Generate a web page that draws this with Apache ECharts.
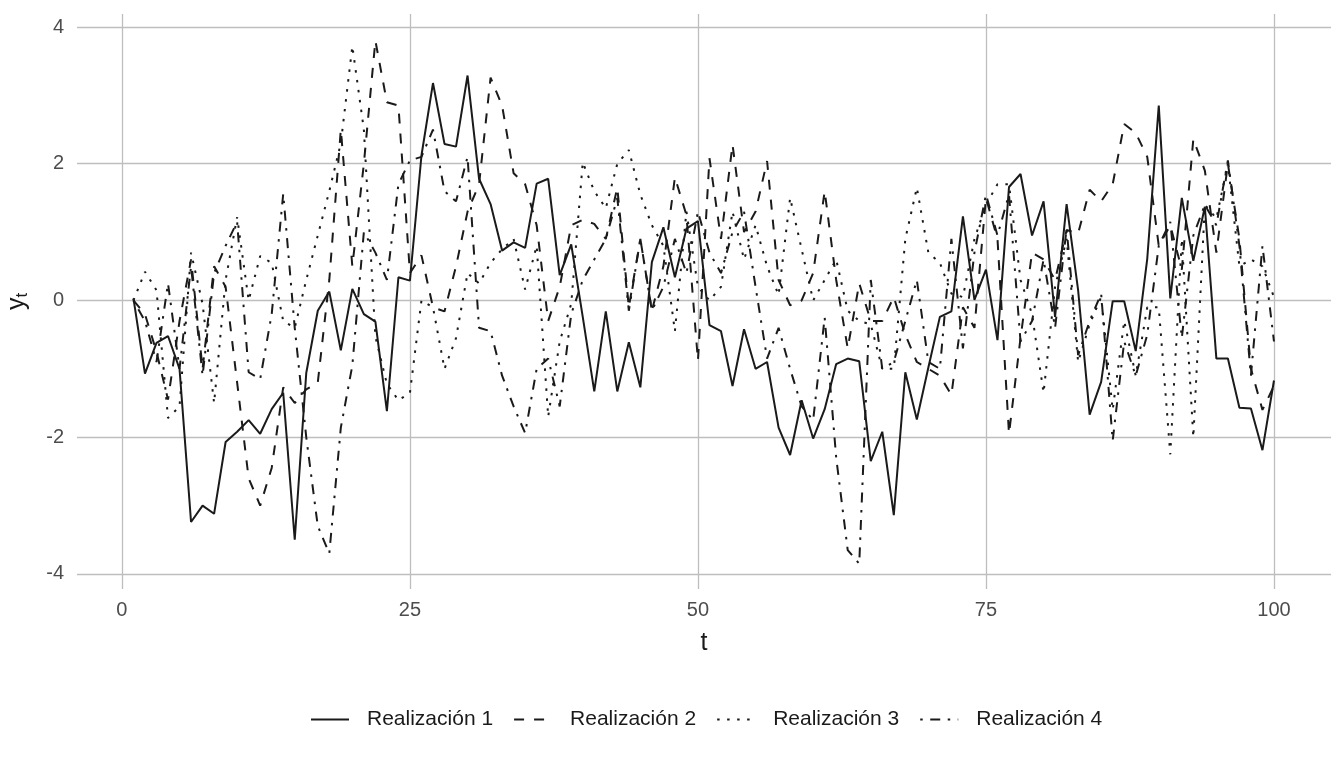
<!DOCTYPE html>
<html>
<head>
<meta charset="utf-8">
<script src="https://cdn.jsdelivr.net/npm/echarts@6/dist/echarts.min.js"></script>
<style>
html,body{margin:0;padding:0;background:#fff;}
#main{width:1344px;height:768px;}
</style>
</head>
<body>
<div id="main"></div>
<script>
// t = 1..100
var T = [];
for (var i = 1; i <= 100; i++) T.push(i);

var names = ['Realización 1', 'Realización 2', 'Realización 3', 'Realización 4'];

var r1 = [0.03,-1.07,-0.62,-0.52,-1.0,-3.24,-3.0,-3.12,-2.07,-1.92,
  -1.75,-1.95,-1.59,-1.35,-3.5,-1.06,-0.15,0.13,-0.73,0.17,
  -0.2,-0.31,-1.62,0.34,0.29,2.12,3.18,2.29,2.25,3.29,
  1.78,1.41,0.73,0.85,0.77,1.71,1.78,0.37,0.82,-0.24,
  -1.33,-0.16,-1.33,-0.61,-1.27,0.56,1.07,0.34,1.05,1.16,
  -0.36,-0.45,-1.25,-0.42,-1.0,-0.9,-1.86,-2.26,-1.46,-2.02,
  -1.59,-0.93,-0.85,-0.89,-2.35,-1.92,-3.14,-1.05,-1.74,-0.98,
  -0.24,-0.16,1.23,0.01,0.45,-0.58,1.66,1.85,0.95,1.45,
  -0.24,1.41,0.15,-1.67,-1.19,-0.01,-0.01,-0.74,0.61,2.85,
  0.03,1.5,0.58,1.37,-0.85,-0.85,-1.57,-1.58,-2.19,-1.17];

var r2 = [0.0,-0.2,-0.75,-1.45,-0.3,0.6,-1.0,0.5,0.2,-1.2,
  -2.6,-3.0,-2.45,-1.27,-1.5,-1.3,-1.2,0.3,2.5,0.5,
  2.0,3.8,2.9,2.85,0.4,0.66,-0.1,-0.16,0.5,1.3,
  1.7,3.26,2.85,1.86,1.7,1.1,-0.3,0.2,1.1,1.18,
  1.12,0.9,1.65,-0.1,0.9,-0.15,0.5,1.8,1.25,-0.88,
  2.08,0.9,2.28,1.0,1.3,2.04,0.3,-0.07,0.0,0.4,
  1.6,0.3,-0.7,0.25,-0.3,-0.3,0.05,-0.5,-0.9,-1.0,
  -1.1,-1.38,-0.1,-0.4,1.5,0.9,-1.95,-0.55,0.7,0.6,
  0.3,1.03,0.98,1.62,1.45,1.7,2.58,2.45,2.1,0.8,
  1.1,0.45,2.36,1.9,0.7,2.0,0.9,-1.0,-1.6,-1.25];

var r3 = [0.0,0.42,0.15,-1.72,-1.55,0.7,-0.05,-1.5,0.3,1.22,
  0.0,0.65,0.55,-0.3,-0.4,0.3,0.95,1.6,2.3,3.72,
  2.5,-0.53,-1.22,-1.46,-1.35,0.0,-0.1,-1.0,-0.55,0.4,
  0.25,0.55,0.75,0.9,0.16,0.8,-1.7,-0.6,-0.05,2.02,
  1.6,1.35,2.0,2.2,1.55,1.1,0.8,-0.45,1.3,0.2,
  0.0,0.2,1.3,0.6,1.1,0.5,0.08,1.5,0.75,0.0,
  0.3,0.6,-0.15,-0.3,-0.35,-1.0,-1.0,0.9,1.65,0.7,
  0.55,0.1,0.05,0.9,1.4,1.7,1.7,0.3,-0.2,-1.35,
  0.2,0.9,-0.9,-0.35,0.05,-1.6,-0.3,-1.1,-0.1,-0.1,
  -2.25,0.9,-2.0,1.4,1.2,2.0,0.5,0.6,0.5,0.05];

var r4 = [0.0,-0.3,-0.9,0.25,-1.0,0.5,-1.1,0.4,0.8,1.15,
  -1.05,-1.15,-0.2,1.56,-0.4,-2.0,-3.3,-3.7,-1.86,-0.95,
  1.0,0.7,0.3,1.7,2.05,2.1,2.5,1.6,1.45,2.1,
  -0.4,-0.45,-1.1,-1.55,-1.94,-1.0,-0.85,-1.55,-0.2,0.3,
  0.6,0.9,1.5,-0.15,0.9,-0.15,0.2,0.9,0.4,1.3,
  0.7,0.4,1.0,1.3,0.2,-0.85,-0.4,-1.0,-1.55,-1.75,
  -0.25,-2.3,-3.65,-3.85,0.3,-1.0,-0.9,-0.3,0.3,-0.9,
  -1.0,0.9,-0.7,0.7,1.55,0.95,1.55,-0.6,-0.3,0.6,
  -0.4,1.05,-0.8,-0.3,0.1,-2.05,-0.6,-1.1,-0.5,0.8,
  1.15,-0.55,0.95,1.4,1.1,2.05,0.8,-1.1,0.8,-0.6];

var dashes = ['solid', [10, 10], [2.5, 7.5], [2.5, 7.5, 10, 7.5]];

function pairs(vals){
  var out = [];
  for (var k = 0; k < T.length; k++) out.push([T[k], vals[k]]);
  return out;
}

var allVals = [r1, r2, r3, r4];
var series = [];
for (var s = 0; s < 4; s++) {
  series.push({
    name: names[s],
    type: 'line',
    data: pairs(allVals[s]),
    showSymbol: false,
    symbol: 'none',
    silent: true,
    lineStyle: {color: '#1a1a1a', width: 2, type: dashes[s]},
    itemStyle: {color: '#1a1a1a'}
  });
}

var myChart = echarts.init(document.getElementById('main'), null, {renderer: 'canvas'});
var font = '"Liberation Sans", Arial, sans-serif';
var option = {
  backgroundColor: '#ffffff',
  animation: false,
  textStyle: {fontFamily: font},
  grid: {left: 77, right: 13, top: 14, bottom: 179, containLabel: false, outerBoundsMode: 'none'},
  xAxis: {
    type: 'value',
    min: -3.9, max: 104.95,
    minInterval: 25, maxInterval: 25,
    name: 't', nameLocation: 'middle', nameGap: 42,
    nameTextStyle: {color: '#1a1a1a', fontSize: 25, fontFamily: font},
    axisLine: {show: false}, axisTick: {show: false},
    axisLabel: {color: '#4d4d4d', fontSize: 20, margin: 11, showMinLabel: false, showMaxLabel: false,
      formatter: function(v){ return (Math.abs(v % 25) < 1e-9) ? String(v) : ''; }},
    splitLine: {show: true, showMinLine: false, showMaxLine: false, lineStyle: {color: '#bebebe', width: 1.3}}
  },
  yAxis: {
    type: 'value',
    min: -4.22, max: 4.19,
    minInterval: 2, maxInterval: 2,
    name: '{a|y}{b|t}', nameLocation: 'middle', nameGap: 46,
    nameTextStyle: {color: '#1a1a1a', fontFamily: font,
      rich: {
        a: {fontSize: 25, lineHeight: 26, verticalAlign: 'top', color: '#1a1a1a', fontFamily: font},
        b: {fontSize: 17, lineHeight: 17, verticalAlign: 'bottom', padding: [11, 0, 0, 0], color: '#1a1a1a', fontFamily: font}
      }},
    axisLine: {show: false}, axisTick: {show: false},
    axisLabel: {color: '#4d4d4d', fontSize: 20, margin: 13, showMinLabel: false, showMaxLabel: false,
      formatter: function(v){ return (Math.abs(v % 2) < 1e-9) ? String(v) : ''; }},
    splitLine: {show: true, showMinLine: false, showMaxLine: false, lineStyle: {color: '#bebebe', width: 1.3}}
  },
  legend: {
    data: names,
    left: 310, top: 709,
    padding: 0,
    orient: 'horizontal',
    itemWidth: 38, itemHeight: 14, itemGap: 20,
    itemStyle: {opacity: 0},
    textStyle: {color: '#1a1a1a', fontSize: 21, fontFamily: font, padding: [0, 0, 0, 13]}
  },
  series: series
};
myChart.setOption(option);
</script>
</body>
</html>
